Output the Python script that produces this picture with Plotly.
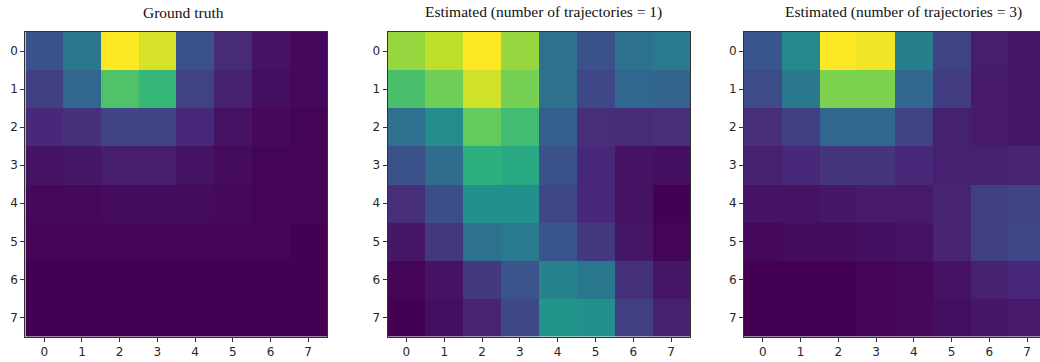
import plotly.graph_objects as go

# Cell indices shared by all three matrices
rows = [0, 1, 2, 3, 4, 5, 6, 7]
cols = [0, 1, 2, 3, 4, 5, 6, 7]
tick_labels = ["0", "1", "2", "3", "4", "5", "6", "7"]

titles = [
    "Ground truth",
    "Estimated (number of trajectories = 1)",
    "Estimated (number of trajectories = 3)",
]

# Normalised intensities (row-major, row 0 at the top)
ground_truth = [
    [0.25, 0.40, 1.00, 0.94, 0.25, 0.12, 0.05, 0.02],
    [0.19, 0.33, 0.72, 0.67, 0.20, 0.09, 0.04, 0.02],
    [0.11, 0.14, 0.21, 0.21, 0.11, 0.05, 0.02, 0.01],
    [0.05, 0.06, 0.08, 0.08, 0.05, 0.03, 0.01, 0.01],
    [0.02, 0.02, 0.03, 0.03, 0.03, 0.02, 0.01, 0.01],
    [0.01, 0.01, 0.01, 0.01, 0.01, 0.01, 0.01, 0.00],
    [0.00, 0.00, 0.00, 0.00, 0.00, 0.00, 0.00, 0.00],
    [0.00, 0.00, 0.00, 0.00, 0.00, 0.00, 0.00, 0.00],
]

estimated_1 = [
    [0.84, 0.90, 1.00, 0.84, 0.37, 0.25, 0.37, 0.41],
    [0.71, 0.78, 0.93, 0.79, 0.37, 0.22, 0.33, 0.32],
    [0.37, 0.49, 0.76, 0.69, 0.30, 0.13, 0.12, 0.13],
    [0.25, 0.35, 0.63, 0.60, 0.25, 0.11, 0.05, 0.04],
    [0.13, 0.24, 0.50, 0.50, 0.22, 0.11, 0.05, 0.00],
    [0.06, 0.16, 0.37, 0.41, 0.27, 0.17, 0.06, 0.01],
    [0.01, 0.05, 0.17, 0.26, 0.45, 0.40, 0.14, 0.06],
    [0.00, 0.04, 0.10, 0.22, 0.52, 0.50, 0.19, 0.09],
]

estimated_3 = [
    [0.27, 0.47, 1.00, 0.98, 0.43, 0.20, 0.08, 0.06],
    [0.23, 0.40, 0.80, 0.80, 0.33, 0.18, 0.07, 0.06],
    [0.13, 0.19, 0.33, 0.33, 0.20, 0.09, 0.07, 0.06],
    [0.09, 0.11, 0.15, 0.15, 0.11, 0.09, 0.09, 0.10],
    [0.05, 0.05, 0.06, 0.07, 0.07, 0.10, 0.19, 0.21],
    [0.02, 0.03, 0.03, 0.04, 0.05, 0.10, 0.19, 0.22],
    [0.00, 0.00, 0.00, 0.01, 0.02, 0.05, 0.09, 0.11],
    [0.00, 0.00, 0.00, 0.01, 0.02, 0.04, 0.06, 0.07],
]

W, H = 1040, 362
# Horizontal pixel extents of each panel; the third runs past the page edge
panel_px = [(25.4, 327.0), (387.5, 690.0), (744.0, 1046.0)]
top_px, bottom_px = 32.0, 336.5
title_x_px = [183, 543, 903]

fig = go.Figure()
matrices = [ground_truth, estimated_1, estimated_3]

for i, z in enumerate(matrices):
    n = "" if i == 0 else str(i + 1)
    fig.add_trace(go.Heatmap(
        z=z, x=cols, y=rows,
        colorscale="Viridis", zmin=0, zmax=1,
        showscale=False,
        xaxis="x" + n, yaxis="y" + n,
        hoverinfo="skip",
    ))

    x0, x1 = panel_px[i]
    cell = (x1 - x0) / 8.0
    if x1 > W:
        right_val = 7.5 - (x1 - W) / cell
        x1 = W
    else:
        right_val = 7.5

    tick_font = dict(family="DejaVu Sans", size=12, color="#262626")
    fig.layout["xaxis" + n] = dict(
        domain=[x0 / W, x1 / W],
        anchor="y" + n,
        range=[-0.5, right_val],
        tickvals=cols, ticktext=tick_labels,
        ticks="outside", ticklen=4, tickwidth=1, tickcolor="#333333",
        tickfont=tick_font,
        showline=True, linecolor="#333333", linewidth=1,
        mirror=True,
        showgrid=False, zeroline=False,
        fixedrange=True,
    )
    fig.layout["yaxis" + n] = dict(
        domain=[1 - bottom_px / H, 1 - top_px / H],
        anchor="x" + n,
        range=[7.5, -0.5],
        tickvals=rows, ticktext=tick_labels,
        ticks="outside", ticklen=4, tickwidth=1, tickcolor="#333333",
        tickfont=tick_font,
        showline=True, linecolor="#333333", linewidth=1,
        mirror=(i < 2),
        showgrid=False, zeroline=False,
        fixedrange=True,
    )

    fig.add_annotation(
        text=titles[i],
        x=title_x_px[i] / W, y=1 - 12 / H,
        xref="paper", yref="paper",
        xanchor="center", yanchor="middle",
        showarrow=False,
        font=dict(family="Liberation Serif", size=15.5, color="#111111"),
    )

fig.update_layout(
    width=W, height=H,
    margin=dict(l=0, r=0, t=0, b=0),
    paper_bgcolor="white",
    plot_bgcolor="white",
    showlegend=False,
)

fig.write_html("out.html", config={"displayModeBar": False})
